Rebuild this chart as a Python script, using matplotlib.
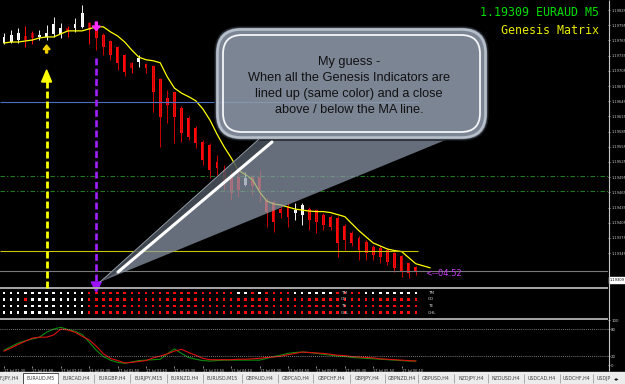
import numpy as np
import matplotlib.pyplot as plt
from matplotlib.patches import FancyBboxPatch, Polygon, Rectangle

W, H = 625, 384

# =============================================================================
# DATA
# =============================================================================
opens = [1.19760, 1.19762, 1.19766, 1.19774, 1.19780, 1.19772, 1.19772, 1.19778, 1.19778, 1.19790,
         1.19790, 1.19792, 1.19800, 1.19790, 1.19776, 1.19764, 1.19752, 1.19736, 1.19721, 1.19723,
         1.19719, 1.19715, 1.19689, 1.19652, 1.19663, 1.19632, 1.19612, 1.19592, 1.19565, 1.19559,
         1.19525, 1.19509, 1.19500, 1.19496, 1.19480, 1.19496, 1.19496, 1.19450, 1.19446, 1.19432,
         1.19436, 1.19425, 1.19421, 1.19432, 1.19430, 1.19421, 1.19417, 1.19415, 1.19399, 1.19385,
         1.19375, 1.19367, 1.19357, 1.19355, 1.19351, 1.19346, 1.19340, 1.19326, 1.19318]
highs = [1.19780, 1.19786, 1.19790, 1.19794, 1.19784, 1.19786, 1.19796, 1.19811, 1.19800, 1.19794,
         1.19809, 1.19835, 1.19802, 1.19796, 1.19780, 1.19766, 1.19754, 1.19738, 1.19723, 1.19736,
         1.19721, 1.19717, 1.19691, 1.19667, 1.19663, 1.19636, 1.19616, 1.19596, 1.19569, 1.19563,
         1.19539, 1.19519, 1.19509, 1.19505, 1.19505, 1.19500, 1.19509, 1.19454, 1.19450, 1.19438,
         1.19444, 1.19444, 1.19444, 1.19436, 1.19432, 1.19425, 1.19421, 1.19419, 1.19403, 1.19389,
         1.19379, 1.19371, 1.19361, 1.19359, 1.19355, 1.19348, 1.19342, 1.19328, 1.19320]
lows = [1.19758, 1.19760, 1.19760, 1.19752, 1.19758, 1.19766, 1.19766, 1.19772, 1.19770, 1.19772,
        1.19782, 1.19790, 1.19758, 1.19746, 1.19736, 1.19727, 1.19707, 1.19695, 1.19701, 1.19713,
        1.19701, 1.19624, 1.19555, 1.19602, 1.19563, 1.19565, 1.19569, 1.19553, 1.19519, 1.19494,
        1.19500, 1.19470, 1.19450, 1.19456, 1.19478, 1.19460, 1.19446, 1.19397, 1.19387, 1.19415,
        1.19397, 1.19411, 1.19401, 1.19391, 1.19385, 1.19391, 1.19391, 1.19338, 1.19351, 1.19359,
        1.19332, 1.19332, 1.19332, 1.19326, 1.19322, 1.19308, 1.19298, 1.19296, 1.19302]
closes = [1.19772, 1.19776, 1.19780, 1.19766, 1.19770, 1.19776, 1.19780, 1.19798, 1.19790, 1.19782,
          1.19798, 1.19819, 1.19786, 1.19770, 1.19752, 1.19736, 1.19721, 1.19703, 1.19711, 1.19730,
          1.19711, 1.19663, 1.19614, 1.19638, 1.19614, 1.19582, 1.19575, 1.19563, 1.19529, 1.19509,
          1.19513, 1.19484, 1.19464, 1.19470, 1.19494, 1.19478, 1.19470, 1.19427, 1.19407, 1.19425,
          1.19417, 1.19430, 1.19440, 1.19411, 1.19407, 1.19401, 1.19397, 1.19365, 1.19371, 1.19365,
          1.19351, 1.19346, 1.19342, 1.19338, 1.19328, 1.19316, 1.19308, 1.19306, 1.19309]
dark_body_bars = [3, 4, 9, 12, 18]

# moving average (shifted two bars to the right)
ma_line = [1.19760, 1.19762, 1.19762, 1.19764, 1.19766, 1.19770, 1.19772, 1.19772, 1.19778, 1.19784,
           1.19784, 1.19784, 1.19788, 1.19792, 1.19792, 1.19782, 1.19774, 1.19762, 1.19746, 1.19732,
           1.19727, 1.19725, 1.19721, 1.19693, 1.19671, 1.19661, 1.19654, 1.19646, 1.19630, 1.19608,
           1.19580, 1.19555, 1.19533, 1.19509, 1.19500, 1.19490, 1.19466, 1.19448, 1.19442, 1.19440,
           1.19436, 1.19432, 1.19430, 1.19428, 1.19427, 1.19427, 1.19425, 1.19421, 1.19417, 1.19403,
           1.19389, 1.19377, 1.19365, 1.19359, 1.19353, 1.19350, 1.19348, 1.19336, 1.19324, 1.19320,
           1.19316]

osc_green = [33, 41, 49, 54, 58, 62, 73, 80, 84, 79, 75, 68, 51, 33, 19, 11, 6, 4, 7, 10,
             11, 12, 13, 25, 36, 26, 17, 13, 10, 9, 10, 11, 11, 11, 11, 11, 11, 15, 19, 22,
             26, 28, 29, 28, 26, 24, 22, 20, 19, 17, 16, 15, 14, 13, 12, 11, 10, 9, 9]
osc_red = [31, 38, 46, 53, 60, 62, 62, 67, 80, 78, 73, 64, 56, 42, 25, 15, 10, 5, 6, 8,
           10, 16, 20, 25, 31, 35, 28, 22, 15, 12, 12, 12, 12, 13, 13, 14, 15, 17, 18, 20,
           23, 26, 29, 28, 27, 26, 24, 22, 21, 19, 18, 17, 16, 14, 13, 12, 11, 10, 9]
osc_levels = [20, 80]
osc_ticks = [0, 20, 80, 100]

time_labels = ["17 Jul 01:30", "17 Jul 01:50", "17 Jul 02:10", "17 Jul 02:30", "17 Jul 02:50",
               "17 Jul 03:10", "17 Jul 03:30", "17 Jul 03:50", "17 Jul 04:10", "17 Jul 04:30",
               "17 Jul 04:50", "17 Jul 05:10", "17 Jul 05:30", "17 Jul 05:50", "17 Jul 06:10"]
time_label_bars = [0, 4, 8, 12, 16, 20, 24, 28, 32, 36, 40, 44, 48, 52, 56]

price_labels = ["1.19825", "1.19795", "1.19765", "1.19735", "1.19705", "1.19675", "1.19645",
                "1.19615", "1.19585", "1.19555", "1.19525", "1.19495", "1.19465", "1.19435",
                "1.19405", "1.19375", "1.19345"]

blue_level = 1.19644
green_levels = [1.19498, 1.19468]
yellow_level = 1.19350
bid = 1.19309
buy_bar, sell_bar = 6, 13

matrix_names = ["TM", "CO", "TE", "GHL"]
matrix_rows = ["WWWWWWWWWWWWRRRRRRRRRRRRRRRRRRRRRWWRWRRRRWWWWWWRRRRWWWWWWWW",
               "WWWRWWWWWWWWRRRRRRRRRRRRRRRRRRRRRRRRRRRRRRRRRRRRRRRRRRRRRRR",
               "WWWWWWWWWWWWRRRRRRRRRRRRRRRRRRRRRRRRRRRRRRRRRRRRRRRRRRRRRRR",
               "WWWWWWWWWWWWRRRRRRRRRRRRRRRRRRRRRRRRRRRRRRRRRRRRRRRRRRRRRRR"]

tab_names = ["F,JPY,H4", "EURAUD,M5", "EURCAD,H4", "EURGBP,H4", "EURJPY,M15", "EURNZD,H4",
             "EURUSD,M15", "GBPAUD,H4", "GBPCAD,H4", "GBPCHF,H4", "GBPJPY,H4", "GBPNZD,H4",
             "GBPUSD,H4", "NZDJPY,H4", "NZDUSD,H4", "USDCAD,H4", "USDCHF,H4", "USDJP"]
tab_edges = [0, 23, 58, 94, 130, 167, 203, 242, 278, 313, 350, 385, 418, 454, 488, 524, 560, 593, 612]

bubble_lines = ["My guess -", "When all the Genesis Indicators are",
                "lined up (same color) and a close", "above / below the MA line."]

# =============================================================================
# LAYOUT HELPERS
# =============================================================================
fig = plt.figure(figsize=(W / 100, H / 100), dpi=100, facecolor='black')
XLIM = (-4 / 7.1, 604 / 7.1)


def px_axes(x0, y0, x1, y1):
    a = fig.add_axes([x0 / W, 1 - y1 / H, (x1 - x0) / W, (y1 - y0) / H])
    a.set_facecolor('black')
    for s in a.spines.values():
        s.set_visible(False)
    a.set_xlim(*XLIM)
    a.set_xticks([])
    return a


# =============================================================================
# 1. MAIN PRICE PANEL
# =============================================================================
ax = px_axes(0, 0, 608, 287)
ax.set_ylim(1.19278, 1.19845)

o, h, l, c = map(np.array, (opens, highs, lows, closes))
x = np.arange(len(o))
bull = c >= o
body_col = np.where(bull, '#ffffff', '#ff0a0a').astype(object)
wick_col = np.where(bull, '#e8e8e8', '#c80000').astype(object)
for i in dark_body_bars:
    body_col[i] = '#a00000'
    wick_col[i] = '#ff0a0a'
ax.vlines(x, l, h, colors=list(wick_col), lw=0.75)
ax.bar(x, np.maximum(np.abs(c - o), 0.00003), bottom=np.minimum(o, c), width=0.42,
       color=list(body_col), lw=0)
ax.plot(np.arange(len(ma_line)), ma_line, color='#ffff00', lw=0.9)

ax.hlines(blue_level, XLIM[0], 58.3, color='#4d6fc4', lw=0.8)
for lv in green_levels:
    ax.axhline(lv, color='#1c7a1c', lw=0.8, ls=(0, (4, 2, 1, 2)))
ax.hlines(yellow_level, XLIM[0], 58.3, color='#c8c800', lw=0.8)
ax.axhline(bid, color='#7a7a7a', lw=0.8)

ax.yaxis.tick_right()
ax.set_yticks([float(p) for p in price_labels])
ax.set_yticklabels(price_labels)
ax.tick_params(axis='y', length=1.5, width=0.5, colors='#c8c8c8', labelsize=2.6, pad=0.8)

# =============================================================================
# 2. GENESIS MATRIX PANEL
# =============================================================================
mx = px_axes(0, 287, 608, 318)
mx.set_ylim(31, 0)
mx.set_yticks([])
row_y = [6, 12.5, 19, 25.5]
for ry, row in zip(row_y, matrix_rows):
    cols = ['#ffffff' if ch == 'W' else '#ff0a0a' for ch in row]
    mx.scatter(np.arange(len(row)), [ry] * len(row), marker='s', s=3.2, c=cols, lw=0)

# =============================================================================
# 3. OSCILLATOR PANEL
# =============================================================================
osc = px_axes(0, 319, 608, 366)
osc.set_ylim(-2, 102.4)
osc.plot(np.arange(len(osc_green)), osc_green, color='#0c8c0c', lw=0.8)
osc.plot(np.arange(len(osc_red)), osc_red, color='#e01010', lw=0.8)
for lv in osc_levels:
    osc.axhline(lv, color='#a0a0a0', lw=0.6, ls=(0, (1, 1.5)))
osc.yaxis.tick_right()
osc.set_yticks(osc_ticks)
osc.set_yticklabels([str(t) for t in osc_ticks])
osc.tick_params(axis='y', length=1.5, width=0.5, colors='#c8c8c8', labelsize=2.8, pad=0.8)
osc.set_xticks(time_label_bars)
osc.set_xticklabels(time_labels, ha='left')
osc.tick_params(axis='x', length=1.5, width=0.5, colors='#c8c8c8', labelsize=2.5, pad=0.8)

# =============================================================================
# 4. OVERLAY (pixel space): bubble, arrows, captions, tab bar
# =============================================================================
ov = fig.add_axes([0, 0, 1, 1], zorder=10)
ov.set_xlim(0, W)
ov.set_ylim(H, 0)
ov.axis('off')


def bar_px(i):
    return ax.transData.transform((i, ax.get_ylim()[0]))[0]


ov.vlines(608.5, 0, 371, color='#c8c8c8', lw=0.8)
ov.hlines([287.5, 318.5], 0, 608, color='#a8a8a8', lw=1.4)

# current price tag
ov.add_patch(Rectangle((609, 277), 16, 6, color='white'))
ov.text(610, 280, f"{bid:.5f}", fontsize=2.6, color='black', va='center')
ov.text(425, 274, "<--04:52", fontsize=6, color='#c83cf0', va='center')

# signal arrows
bx, sx = bar_px(buy_bar), bar_px(sell_bar)
ov.plot([bx, bx], [288, 81], color='#ffff00', lw=2, ls=(0, (2.5, 1.1)))
ov.add_patch(Polygon([(bx - 5, 82), (bx + 5, 82), (bx, 70)], color='#ffff00'))
ov.add_patch(Polygon([(bx - 3.5, 49.5), (bx, 45), (bx + 3.5, 49.5), (bx + 1, 49.5),
                      (bx + 1, 53), (bx - 1, 53), (bx - 1, 49.5)], color='#f0d000'))
ov.plot([sx, sx], [58, 282], color='#a020ff', lw=1.9, ls=(0, (2.6, 1.3)))
ov.add_patch(Polygon([(sx - 5, 282), (sx + 5, 282), (sx, 292)], color='#9b10ff'))
ov.add_patch(Polygon([(sx - 4, 26), (sx - 1, 26), (sx - 1, 22), (sx + 1, 22), (sx + 1, 26),
                      (sx + 4, 26), (sx, 30.5)], color='#ff2dff'))

# speech bubble: translucent tail with a darker left flank and white gloss stroke
ov.add_patch(Polygon([(100, 282), (259, 139), (448, 139)], facecolor='#8f9aab', alpha=0.72,
                     edgecolor='none'))
ov.add_patch(Polygon([(100, 282), (259, 139), (272, 141), (118, 272)], facecolor='#23272d',
                     alpha=0.55, edgecolor='none'))
ov.plot([100, 259], [282, 139], color='#9aa3ad', lw=0.6)
ov.add_patch(FancyBboxPatch((215, 27), 273, 113, boxstyle="round,pad=0,rounding_size=26",
                            facecolor='#8f9aab', alpha=0.87, edgecolor='#1a1d22', lw=1.2))
ov.add_patch(FancyBboxPatch((217.5, 29.5), 268, 108, boxstyle="round,pad=0,rounding_size=24",
                            facecolor='none', edgecolor='#b7c0ca', lw=1.8))
ov.add_patch(FancyBboxPatch((223, 35), 257, 97, boxstyle="round,pad=0,rounding_size=19",
                            facecolor='none', edgecolor='#f4f6f8', lw=1.3))
ov.plot([272, 118], [142, 272], color='white', lw=2.2, solid_capstyle='round')
for k, line in enumerate(bubble_lines):
    ov.text(349, 62 + 16 * k, line, fontsize=9.2, family='Liberation Sans', color='#111111',
            ha='center', va='center')

# captions, top right
ov.text(599, 12, "1.19309 EURAUD M5", fontsize=8.4, family='DejaVu Sans Mono',
        color='#00dc00', ha='right', va='center')
ov.text(599, 30, "Genesis Matrix", fontsize=8.4, family='DejaVu Sans Mono',
        color='#e8e800', ha='right', va='center')

# matrix row names
for ry, name in zip(row_y, matrix_names):
    ov.text(341, 287 + ry, name, fontsize=3, color='#d8d8d8', va='center')
    ov.text(428, 287 + ry, name, fontsize=3, color='#d8d8d8', va='center')

# symbol tabs
ov.add_patch(Rectangle((0, 372), W, 12, color='#ececec'))
ov.vlines(tab_edges[2:-1], 374, 383, color='#a0a0a0', lw=0.6)
ov.add_patch(Rectangle((tab_edges[1], 372.5), tab_edges[2] - tab_edges[1], 11,
                       facecolor='white', edgecolor='#303030', lw=0.6))
for k, name in enumerate(tab_names):
    if k == 0:
        ov.text(19, 378.5, name, fontsize=3.4, color='#404040', ha='right', va='center')
    elif k == len(tab_names) - 1:
        ov.text(597, 378.5, name, fontsize=3.4, color='#404040', ha='left', va='center')
    else:
        ov.text((tab_edges[k] + tab_edges[k + 1]) / 2, 378.5, name, fontsize=3.4,
                color='#404040', ha='center', va='center')
ov.text(614, 378.5, "\u25c2\u25b8", fontsize=4, color='#202020', va='center')

fig.savefig('out.png', dpi=100, facecolor='black')
